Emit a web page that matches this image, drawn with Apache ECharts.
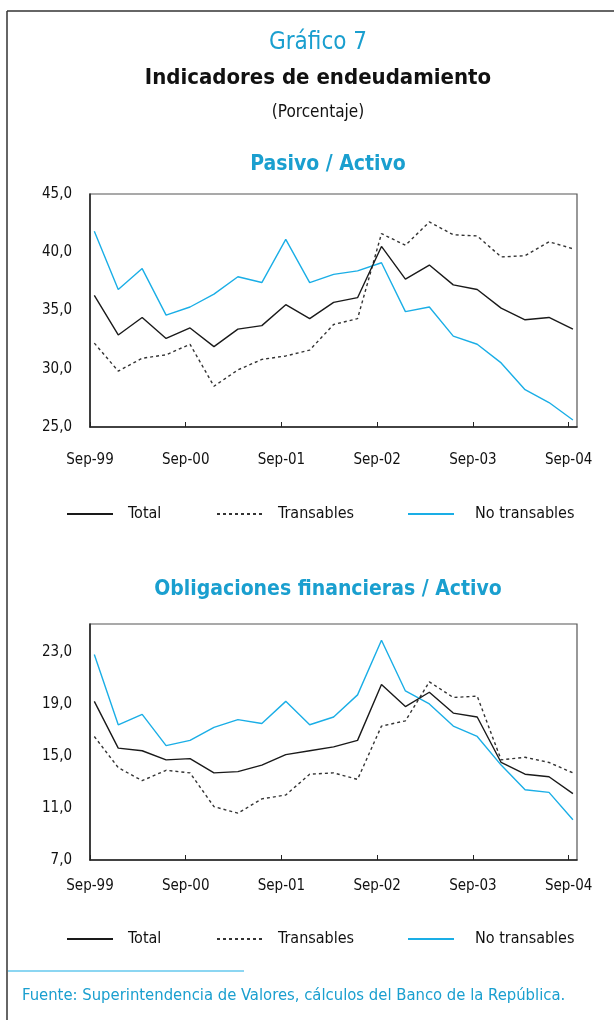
<!DOCTYPE html>
<html><head><meta charset="utf-8">
<script src="https://cdn.jsdelivr.net/npm/echarts@6/dist/echarts.min.js"></script>
<style>html,body{margin:0;padding:0;background:#fff}#c{width:614px;height:1020px}</style>
</head><body><div id="c"></div><script>
// Quarterly observations, Sep-99 .. Sep-04
const quarters = ['Sep-99','Dic-99','Mar-00','Jun-00','Sep-00','Dic-00','Mar-01','Jun-01','Sep-01','Dic-01','Mar-02','Jun-02','Sep-02','Dic-02','Mar-03','Jun-03','Sep-03','Dic-03','Mar-04','Jun-04','Sep-04'];
const xTickLabels = ['Sep-99','Sep-00','Sep-01','Sep-02','Sep-03','Sep-04'];
const seriesNames = ['Total','Transables','No transables'];

// Pasivo / Activo
const pasivoTotal        = [36.3,32.9,34.4,32.6,33.5,31.9,33.4,33.7,35.5,34.3,35.7,36.1,40.5,37.7,38.9,37.2,36.8,35.2,34.2,34.4,33.4];
const pasivoTransables   = [32.2,29.8,30.9,31.2,32.1,28.5,29.9,30.8,31.1,31.6,33.8,34.3,41.6,40.6,42.6,41.5,41.4,39.6,39.7,40.9,40.3];
const pasivoNoTransables = [41.8,36.8,38.6,34.6,35.3,36.4,37.9,37.4,41.1,37.4,38.1,38.4,39.1,34.9,35.3,32.8,32.1,30.5,28.2,27.1,25.6];
const pasivoYTicks = [25,30,35,40,45];

// Obligaciones financieras / Activo
const obligTotal        = [19.2,15.6,15.4,14.7,14.8,13.7,13.8,14.3,15.1,15.4,15.7,16.2,20.5,18.8,19.9,18.3,18.0,14.5,13.6,13.4,12.1];
const obligTransables   = [16.5,14.1,13.1,13.9,13.7,11.1,10.6,11.7,12.0,13.6,13.7,13.2,17.3,17.7,20.7,19.5,19.6,14.7,14.9,14.5,13.7];
const obligNoTransables = [22.8,17.4,18.2,15.8,16.2,17.2,17.8,17.5,19.2,17.4,18.0,19.7,23.9,20.0,19.0,17.3,16.5,14.3,12.4,12.2,10.1];
const obligYTicks = [7,11,15,19,23];

const FONT = "'Liberation Sans Narrow','DejaVu Sans Condensed','Arial Narrow',sans-serif";
const CYAN_TEXT = '#1a9fcf';
const CYAN_LINE = '#1aaee6';
const POINT_OFFSET = 0.18; // observations plotted at end of each quarter, just after the tick

const toXY = arr => arr.map((v, i) => [i + POINT_OFFSET, v]);
const comma = v => v.toFixed(1).replace('.', ',');
const tickVals = xTickLabels.map((_, k) => k * 4);

function xAxis(gridIndex, margin) {
  return {
    type: 'value', gridIndex, min: 0, max: 20.35,
    axisLine: { show: true, lineStyle: { color: '#222', width: 1.5 } },
    axisTick: { show: true, inside: true, length: 5, customValues: tickVals, lineStyle: { color: '#222', width: 1 } },
    axisLabel: { customValues: tickVals, margin, color: '#111', fontFamily: FONT, fontSize: 15,
      formatter: v => xTickLabels[Math.round(v / 4)] },
    splitLine: { show: false }
  };
}
function yAxis(gridIndex, min, max, ticks) {
  return {
    type: 'value', gridIndex, min, max,
    axisLine: { show: true, lineStyle: { color: '#222', width: 1.5 } },
    axisTick: { show: false },
    axisLabel: { customValues: ticks, margin: 18, color: '#111', fontFamily: FONT, fontSize: 15, formatter: comma },
    splitLine: { show: false }
  };
}
function line(name, data, xi, kind) {
  const ls = kind === 'total' ? { color: '#1a1a1a', width: 1.4 }
           : kind === 'trans' ? { color: '#333', width: 1.4, type: [3, 3] }
           : { color: CYAN_LINE, width: 1.4 };
  return { name, type: 'line', xAxisIndex: xi, yAxisIndex: xi, data: toXY(data),
    symbol: 'none', lineStyle: ls, itemStyle: { color: ls.color }, silent: true, animation: false, z: kind==='total'?4:3 };
}
function legends(top) {
  const lefts = [66, 216, 407];
  const gaps = [10, 10, 16];
  return seriesNames.map((n, i) => ({
    data: [n], left: lefts[i], top, padding: 0, itemWidth: 46, itemHeight: 14,
    itemStyle: { opacity: 0 },
    textStyle: { color: '#111', fontFamily: FONT, fontSize: 16, padding: [0, 0, 0, gaps[i]] },
    selectedMode: false
  }));
}
function txt(x, y, text, size, color, bold, align) {
  return { type: 'text', x, y, style: { text, fill: color, font: (bold ? 'bold ' : '') + size + 'px ' + FONT,
    textAlign: align || 'center', textVerticalAlign: 'middle' } };
}

const chart = echarts.init(document.getElementById('c'), null, { renderer: 'canvas' });
chart.setOption({
  animation: false,
  grid: [
    { left: 90, top: 194, width: 487, height: 233, show: true, borderColor: '#555', borderWidth: 1.2, backgroundColor: 'transparent' },
    { left: 90, top: 624, width: 487, height: 236, show: true, borderColor: '#555', borderWidth: 1.2, backgroundColor: 'transparent' }
  ],
  xAxis: [xAxis(0, 26), xAxis(1, 19)],
  yAxis: [yAxis(0, 25, 45, pasivoYTicks), yAxis(1, 7, 25.15, obligYTicks)],
  legend: [...legends(506), ...legends(931)],
  series: [
    line('Total', pasivoTotal, 0, 'total'),
    line('Transables', pasivoTransables, 0, 'trans'),
    line('No transables', pasivoNoTransables, 0, 'non'),
    line('Total', obligTotal, 1, 'total'),
    line('Transables', obligTransables, 1, 'trans'),
    line('No transables', obligNoTransables, 1, 'non')
  ],
  graphic: [
    { type: 'line', shape: { x1: 7, y1: 11, x2: 614, y2: 11 }, style: { stroke: '#333', lineWidth: 1.5 } },
    { type: 'line', shape: { x1: 7, y1: 11, x2: 7, y2: 1020 }, style: { stroke: '#333', lineWidth: 1.5 } },
    { type: 'line', shape: { x1: 8, y1: 971, x2: 244, y2: 971 }, style: { stroke: CYAN_LINE, lineWidth: 1.2 } },
    txt(318, 43, 'Gráfico 7', 24, CYAN_TEXT, false),
    txt(318, 78, 'Indicadores de endeudamiento', 22, '#111', true),
    txt(318, 113, '(Porcentaje)', 17, '#111', false),
    txt(328, 165, 'Pasivo / Activo', 21, CYAN_TEXT, true),
    txt(328, 590, 'Obligaciones financieras / Activo', 21, CYAN_TEXT, true),
    txt(22, 996, 'Fuente: Superintendencia de Valores, cálculos del Banco de la República.', 16.5, CYAN_TEXT, false, 'left')
  ]
});
</script></body></html>
